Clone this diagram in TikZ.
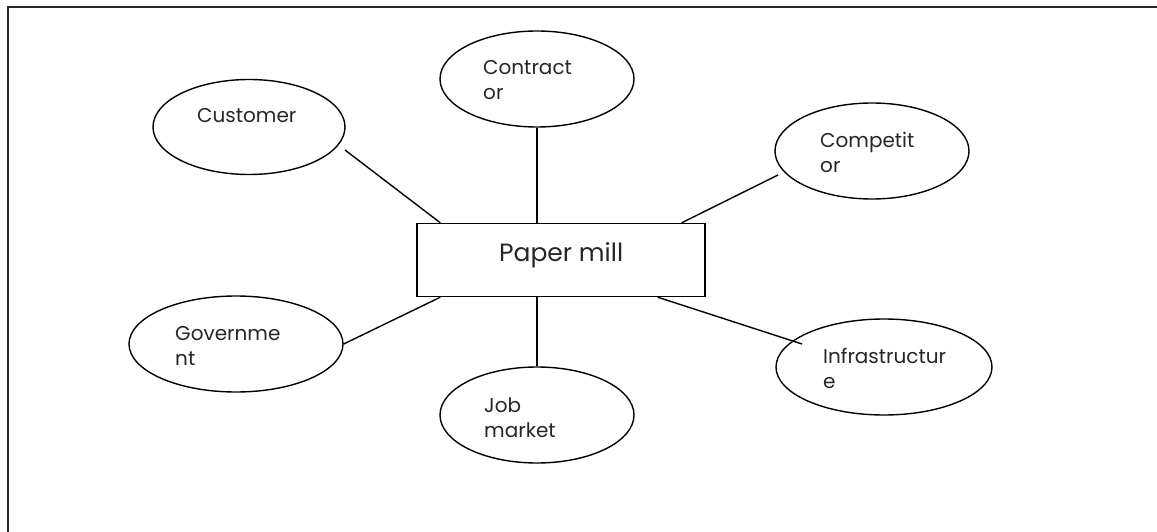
\documentclass[tikz,border=0pt]{standalone}
\usepackage{fontspec}
\setmainfont{Poppins}
\usetikzlibrary{shapes.geometric}
\tikzset{
  ln/.style={line width=1.4pt,black},
  frame/.style={line width=2.6pt,black!85},
  oval/.style={draw,ellipse,line width=1.4pt,minimum width=194pt,minimum height=96pt,inner sep=0pt},
  lbl/.style={font=\fontsize{20}{25}\selectfont,align=left,inner sep=0pt,text=black!85},
  millbox/.style={draw,line width=1.4pt,minimum width=288pt,minimum height=73pt,inner sep=0pt}
}

\begin{document}
\begin{tikzpicture}[x=1pt,y=-1pt]
\useasboundingbox (0,0) rectangle (1157,532);
\draw[frame] (1157,7)--(8,7)--(8,532);
% centre box
\node[millbox] (mill) at (561,260) {};
\node[lbl,font=\fontsize{25}{28}\selectfont,anchor=base west] (mill-t) at (499,261) {Paper mill};
% ovals round it
\node[oval,minimum width=192pt,minimum height=95pt] (cust) at (249,127) {};
\node[oval] (contr) at (537,79) {};
\node[oval] (comp) at (872,151) {};
\node[oval,minimum width=214pt] (gov) at (236,344) {};
\node[oval] (job) at (537,415) {};
\node[oval,minimum width=216pt] (infra) at (884,367) {};
% texts (base = last line)
\node[lbl,anchor=base west] (cust-t) at (197,123) {Customer};
\node[lbl,anchor=base west] (contr-t) at (483,100) {Contract\\or};
\node[lbl,anchor=base west] (comp-t) at (820,173) {Competit\\or};
\node[lbl,anchor=base west] (gov-t) at (175,365) {Governme\\nt};
\node[lbl,anchor=base west] (job-t) at (484,437) {Job\\market};
\node[lbl,anchor=base west] (infra-t) at (823,388) {Infrastructur\\e};
% links
\draw[ln] ([xshift=96pt,yshift=-23pt]cust.center)--([xshift=24pt]mill.north west);
\draw[ln] (contr.south)--(contr.south |- mill.north);
\draw[ln] ([xshift=-94pt,yshift=-24pt]comp.center)--([xshift=-24pt]mill.north east);
\draw[ln] (gov.east)--([xshift=24pt]mill.south west);
\draw[ln] (job.north)--(job.north |- mill.south);
\draw[ln] ([xshift=-48pt]mill.south east)--([xshift=-82pt,yshift=23pt]infra.center);
\end{tikzpicture}
\end{document}
